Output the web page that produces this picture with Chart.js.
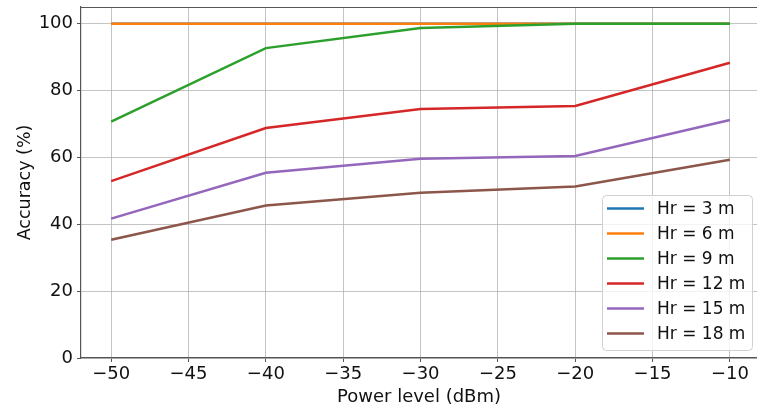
<!DOCTYPE html>
<html>
<head>
<meta charset="utf-8">
<script src="https://cdn.jsdelivr.net/npm/chart.js@4.4.1/dist/chart.umd.min.js"></script>
<style>
  html, body { margin: 0; padding: 0; background: #fff; }
  #wrap { width: 757px; height: 412px; }
</style>
</head>
<body>
<div id="wrap"><canvas id="chart" width="757" height="412"></canvas></div>
<script>
// power levels (dBm) on the x axis
const powerLevels = [-50, -40, -30, -20, -10]

const seriesLabels = ['Hr = 3 m', 'Hr = 6 m', 'Hr = 9 m', 'Hr = 12 m', 'Hr = 15 m', 'Hr = 18 m']

// accuracy (%) per receiver height
const hr3 = [100, 100, 100, 100, 100]
const hr6 = [100, 100, 100, 100, 100]
const hr9 = [70.7, 92.7, 98.7, 100, 100]
const hr12 = [52.9, 68.8, 74.5, 75.4, 88.3]
const hr15 = [41.7, 55.4, 59.6, 60.4, 71.2]
const hr18 = [35.4, 45.6, 49.4, 51.3, 59.3]

const xTicks = [-50, -45, -40, -35, -30, -25, -20, -15, -10]
const yTicks = [0, 20, 40, 60, 80, 100]

const colors = ['#1f77b4', '#ff7f0e', '#2ca02c', '#d62728', '#9467bd', '#8c564b']
const FONT = "'DejaVu Sans', sans-serif"

const allSeries = [hr3, hr6, hr9, hr12, hr15, hr18]

const datasets = allSeries.map((vals, i) => ({
  label: seriesLabels[i],
  data: vals.map((v, j) => ({ x: powerLevels[j], y: v })),
  borderColor: colors[i],
  backgroundColor: colors[i],
  borderWidth: 2.5,
  pointRadius: 0,
  tension: 0,
  fill: false,
  // later series are drawn on top
  order: allSeries.length - i
}))

const minus = v => String(v).replace('-', '\u2212')

// top spine and the boxed legend in the lower right
const framePlugin = {
  id: 'frame',
  afterDraw(chart) {
    const ctx = chart.ctx
    const area = chart.chartArea
    ctx.save()
    ctx.strokeStyle = '#555'
    ctx.lineWidth = 1.2
    ctx.beginPath()
    ctx.moveTo(area.left, area.top + 0.5)
    ctx.lineTo(area.right, area.top + 0.5)
    ctx.stroke()

    const bx = 602.5, by = 195.5, bw = 150, bh = 155, r = 4
    ctx.beginPath()
    ctx.moveTo(bx + r, by)
    ctx.arcTo(bx + bw, by, bx + bw, by + bh, r)
    ctx.arcTo(bx + bw, by + bh, bx, by + bh, r)
    ctx.arcTo(bx, by + bh, bx, by, r)
    ctx.arcTo(bx, by, bx + bw, by, r)
    ctx.closePath()
    ctx.fillStyle = 'rgba(255,255,255,0.8)'
    ctx.fill()
    ctx.strokeStyle = '#d0d0d0'
    ctx.lineWidth = 1
    ctx.stroke()

    ctx.font = '17px ' + FONT
    ctx.textBaseline = 'middle'
    ctx.textAlign = 'left'
    chart.data.datasets.forEach((ds, i) => {
      const y = 208.5 + i * 25
      ctx.strokeStyle = ds.borderColor
      ctx.lineWidth = 2.5
      ctx.beginPath()
      ctx.moveTo(607, y)
      ctx.lineTo(644, y)
      ctx.stroke()
      ctx.fillStyle = '#111'
      ctx.fillText(ds.label, 657, y + 1)
    })
    ctx.restore()
  }
}

new Chart(document.getElementById('chart'), {
  type: 'line',
  data: { datasets },
  plugins: [framePlugin],
  options: {
    responsive: false,
    animation: false,
    layout: { padding: { top: 7, right: 0, left: 0, bottom: 0 } },
    plugins: {
      legend: { display: false },
      tooltip: { enabled: false }
    },
    scales: {
      x: {
        type: 'linear',
        min: -51.95,
        max: -8.25,
        afterBuildTicks: s => { s.ticks = xTicks.map(v => ({ value: v })) },
        afterFit: s => {
          s.height = 54
          s.paddingLeft = 0
          s.paddingRight = 0
        },
        ticks: {
          callback: v => minus(v),
          font: { family: FONT, size: 18 },
          color: '#111',
          padding: 2,
          maxRotation: 0
        },
        grid: {
          color: 'rgba(176,176,176,0.75)',
          lineWidth: 1,
          tickColor: '#555',
          tickLength: 4
        },
        border: { color: '#555', width: 1.2 },
        title: {
          display: true,
          text: 'Power level (dBm)',
          font: { family: FONT, size: 18 },
          color: '#111',
          padding: { top: 0, bottom: 4 }
        }
      },
      y: {
        min: 0,
        max: 105,
        afterBuildTicks: s => { s.ticks = yTicks.map(v => ({ value: v })) },
        afterFit: s => {
          s.width = 81
          s.paddingTop = 0
          s.paddingBottom = 0
        },
        ticks: {
          font: { family: FONT, size: 18 },
          color: '#111',
          padding: 4
        },
        grid: {
          color: 'rgba(176,176,176,0.75)',
          lineWidth: 1,
          tickColor: '#555',
          tickLength: 4
        },
        border: { color: '#555', width: 1.2 },
        title: {
          display: true,
          text: 'Accuracy (%)',
          font: { family: FONT, size: 17.5 },
          color: '#111',
          padding: { top: 15, bottom: 0 }
        }
      }
    }
  }
})
</script>
</body>
</html>
